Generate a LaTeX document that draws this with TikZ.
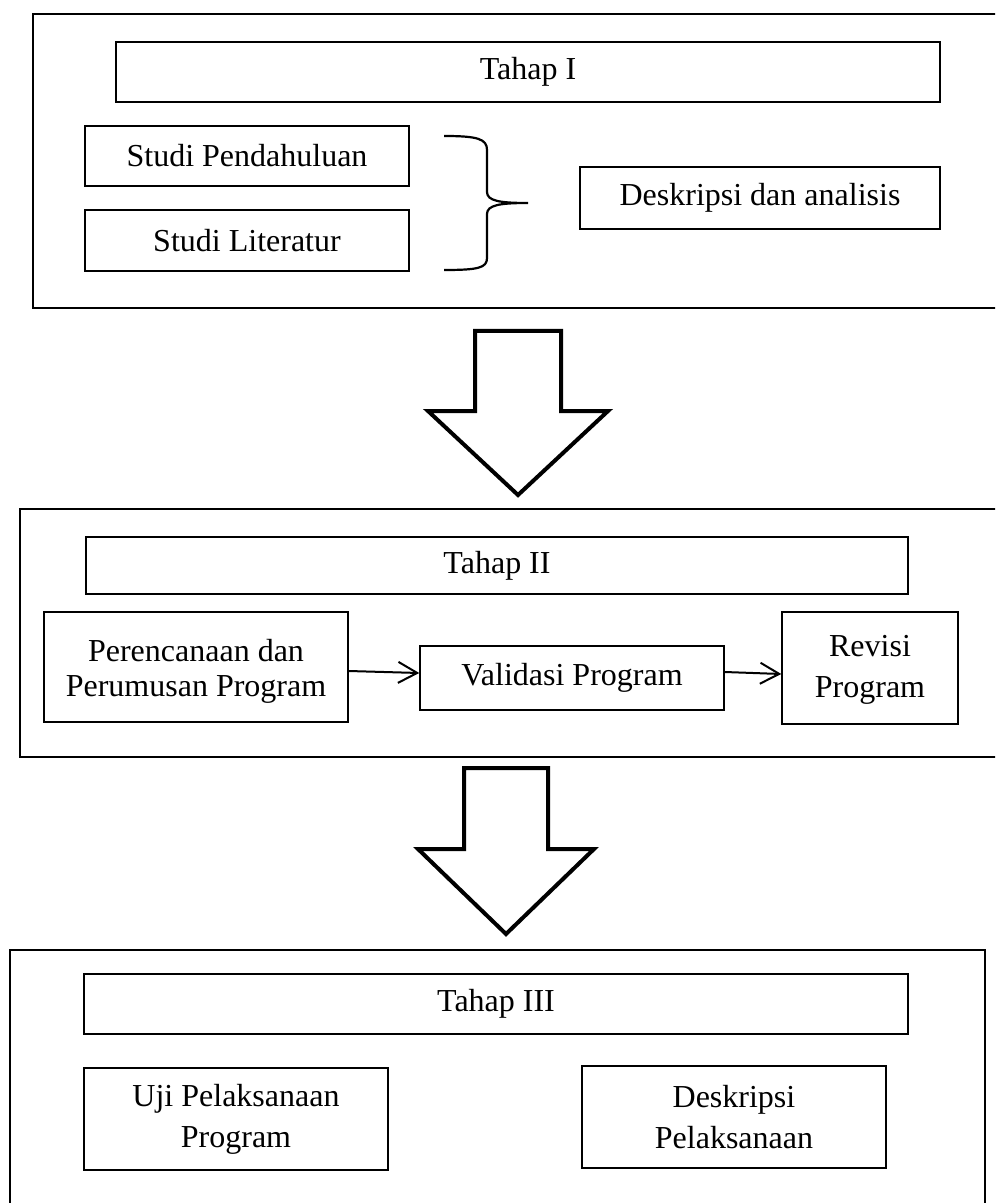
\documentclass[tikz,border=0pt]{standalone}
\usepackage{fontspec}
\setmainfont{Liberation Serif}
\usetikzlibrary{arrows.meta}

\tikzset{
  kotak/.style={draw, line width=0.75pt, inner sep=0pt, align=center,
    font=\fontsize{16}{20.5}\selectfont},
  bingkai/.style={draw, line width=0.75pt},
  panahbesar/.style={draw, line width=2pt, line join=miter},
  panah/.style={-{Straight Barb[length=9.5pt,width=10.5pt,line width=1pt]}, line width=1pt}
}

\begin{document}
\begin{tikzpicture}[x=0.5pt,y=-0.5pt]
\clip (0,0) rectangle (995,1203);

% tahap I
\draw[bingkai] (1010,14) -- (33,14) -- (33,308) -- (1010,308);
\node[kotak, minimum width=412pt, minimum height=30pt] (tahap1) at (528,72) {Tahap I};
\node[kotak, minimum width=162pt, minimum height=30pt] (pendahuluan) at (247,156) {Studi Pendahuluan};
\node[kotak, minimum width=162pt, minimum height=30.5pt] (literatur) at (247,240.5) {Studi Literatur};
\node[kotak, minimum width=180pt, minimum height=31pt] (deskripsi) at (760,198) {Deskripsi dan analisis};
\draw[line width=1.1pt] (444,136) .. controls (478,136) and (487,139) .. (487,150) -- (487,192)
  .. controls (487,201) and (500,203) .. (528,203)
  .. controls (500,203) and (487,205) .. (487,214) -- (487,258)
  .. controls (487,268) and (478,270) .. (444,270);

\draw[panahbesar] (475,331) -- (561,331) -- (561,411) -- (608,411) -- (518,495) -- (428,411) -- (475,411) -- cycle;

% tahap II
\draw[bingkai] (1010,509) -- (20,509) -- (20,757) -- (1010,757);
\node[kotak, minimum width=411pt, minimum height=28.5pt] (tahap2) at (497,565.5) {Tahap II};
\node[kotak, minimum width=152pt, minimum height=55pt, font=\fontsize{16}{17.5}\selectfont] (perencanaan) at (196,667) {\rule{0pt}{15pt}Perencanaan dan\\Perumusan Program};
\node[kotak, minimum width=152pt, minimum height=32pt] (validasi) at (572,678) {Validasi Program};
\node[kotak, minimum width=88pt, minimum height=56pt, font=\fontsize{16}{20.5}\selectfont] (revisi) at (870,668) {\rule{0pt}{12pt}Revisi\\Program};
\draw[panah] ([yshift=-2pt]perencanaan.east) -- ([yshift=2.5pt]validasi.west);
\draw[panah] ([yshift=3pt]validasi.east) -- ([yshift=-3pt]revisi.west);

\draw[panahbesar] (464,768) -- (548,768) -- (548,849) -- (594,849) -- (506,934) -- (418,849) -- (464,849) -- cycle;

% tahap III
\draw[bingkai] (10,1215) -- (10,950) -- (985,950) -- (985,1215);
\node[kotak, minimum width=412pt, minimum height=30pt] (tahap3) at (496,1004) {Tahap III};
\node[kotak, minimum width=152pt, minimum height=51pt] (uji) at (236,1119) {Uji Pelaksanaan\\Program};
\node[kotak, minimum width=152pt, minimum height=51pt] (pelaksanaan) at (734,1117) {Deskripsi\\Pelaksanaan};

\end{tikzpicture}
\end{document}
